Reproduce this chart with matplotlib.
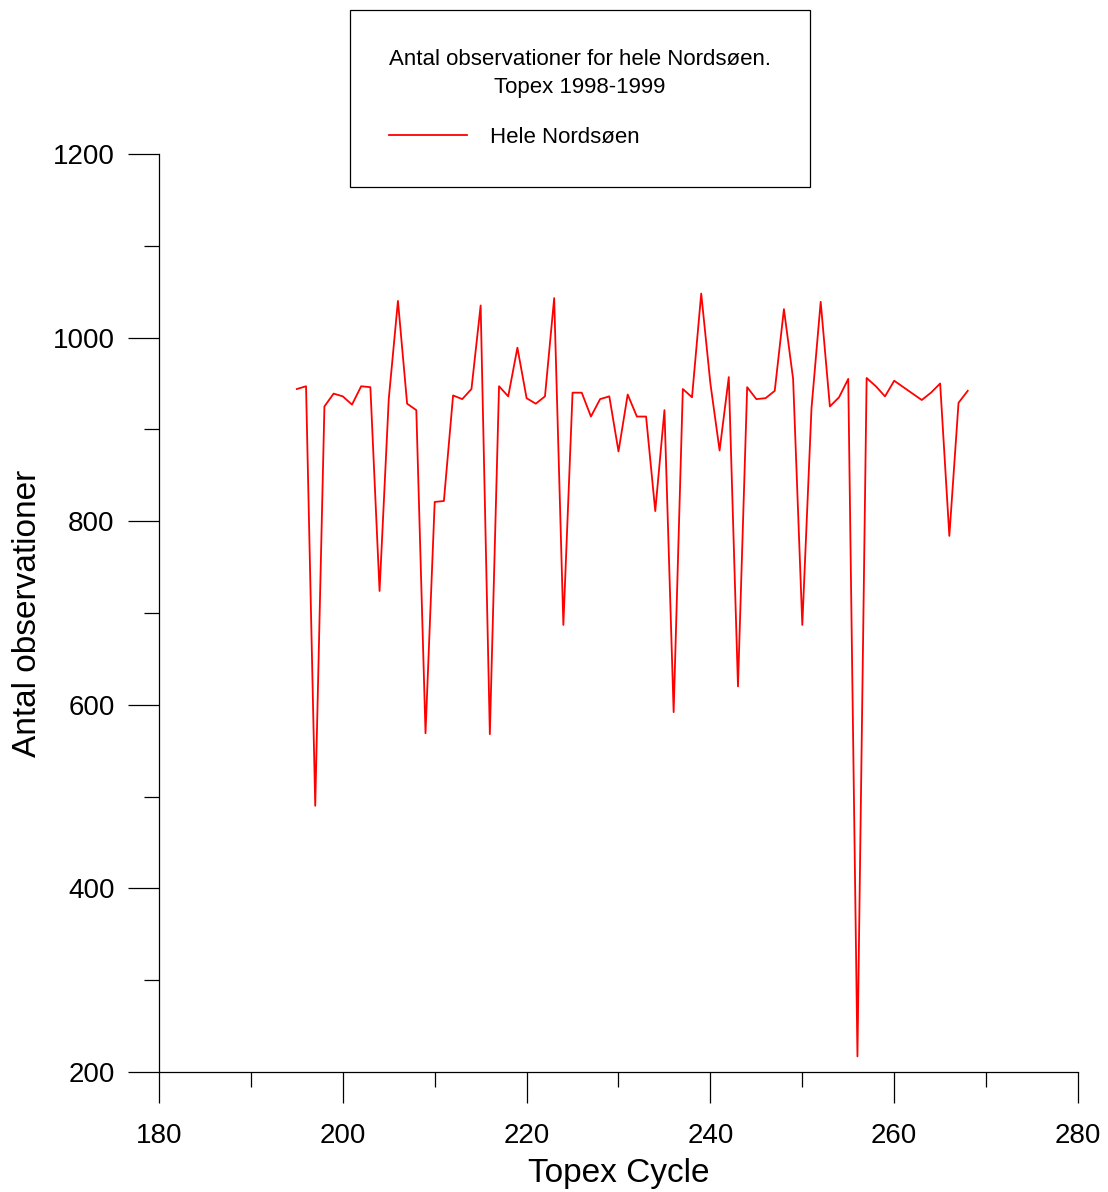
import numpy as np
import matplotlib
matplotlib.use("Agg")
import matplotlib.pyplot as plt
from matplotlib.ticker import MultipleLocator

plt.rcParams['font.family'] = ['Liberation Sans', 'DejaVu Sans']

cycles = np.arange(195, 269)
antal = [944, 947, 490, 925, 939, 936, 927, 947, 946, 724,
         933, 1040, 928, 921, 569, 821, 822, 937, 933, 944,
         1035, 568, 947, 936, 989, 934, 928, 936, 1043, 687,
         940, 940, 914, 933, 936, 876, 938, 914, 914, 811,
         921, 592, 944, 935, 1048, 950, 877, 957, 620, 946,
         933, 934, 942, 1031, 955, 687, 923, 1039, 925, 935,
         955, 217, 956, 947, 936, 953, 946, 939, 932, 940,
         950, 784, 929, 942]

W, H = 1108, 1192
fig = plt.figure(figsize=(W / 100, H / 100), dpi=100)
ax = fig.add_axes([159 / W, 1 - 1072 / H, (1078 - 159) / W, (1072 - 154) / H])

ax.plot(cycles, antal, color='red', lw=1.3, label='Hele Nordsøen')

ax.set_xlim(180, 280)
ax.set_ylim(200, 1200)
ax.xaxis.set_major_locator(MultipleLocator(20))
ax.xaxis.set_minor_locator(MultipleLocator(10))
ax.yaxis.set_major_locator(MultipleLocator(200))
ax.yaxis.set_minor_locator(MultipleLocator(100))

for s in ['top', 'right']:
    ax.spines[s].set_visible(False)
for s in ['left', 'bottom']:
    ax.spines[s].set_linewidth(0.9)

ax.tick_params(which='major', direction='out', length=22, width=0.9,
               labelsize=20, pad=10)
ax.tick_params(axis='x', which='major', pad=15)
ax.tick_params(which='minor', direction='out', length=11, width=0.9)

ax.set_xlabel('Topex Cycle', fontsize=24, labelpad=6)
ax.set_ylabel('Antal observationer', fontsize=24, labelpad=7)

leg = ax.legend(title='Antal observationer for hele Nordsøen.\nTopex 1998-1999',
                loc='upper center', bbox_to_anchor=(580 / W, 1 - 10 / H),
                bbox_transform=fig.transFigure, borderaxespad=0,
                fontsize=16, title_fontsize=16,
                frameon=True, fancybox=False, shadow=False, framealpha=1,
                edgecolor='black', borderpad=1.75, handlelength=3.5,
                handletextpad=1.05, labelspacing=1.3, alignment='left')
leg.get_frame().set_linewidth(0.9)
leg.get_title().set_multialignment('center')
leg.get_title().set_linespacing(1.45)

fig.savefig('out.png', dpi=100)
